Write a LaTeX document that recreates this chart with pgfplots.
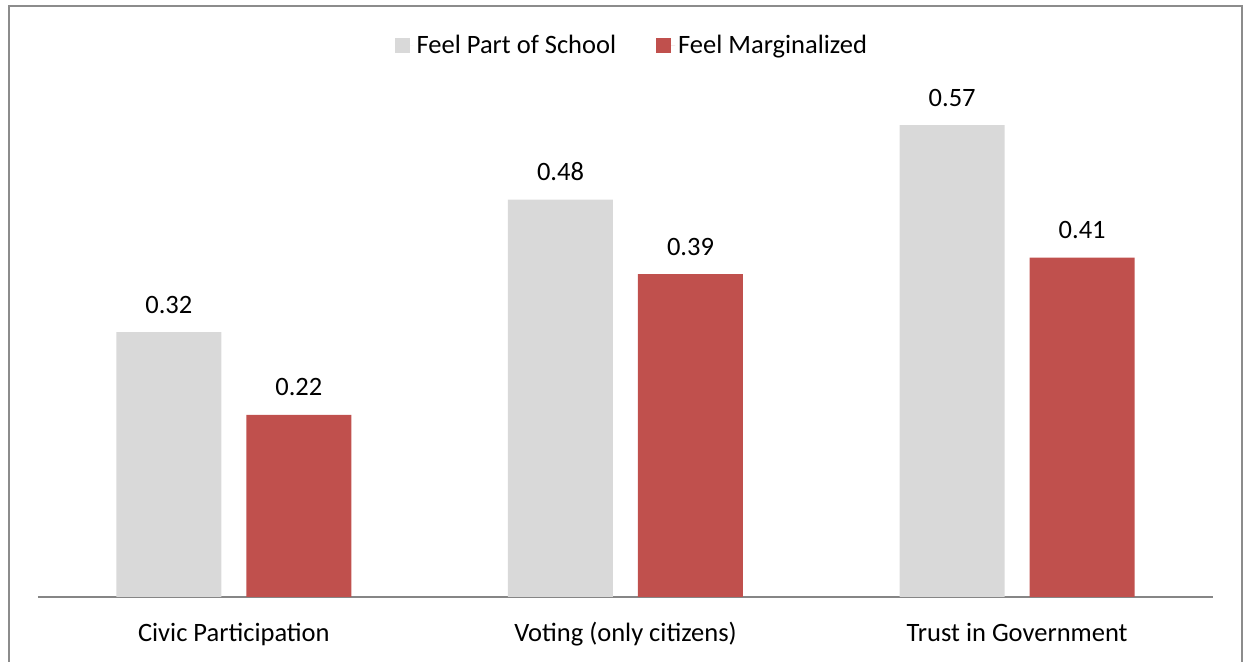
\documentclass[border=0pt]{standalone}
\usepackage{pgfplots}
\pgfplotsset{compat=1.18}
\usepackage{fontspec}
\setmainfont{Carlito}
\definecolor{barGray}{HTML}{D9D9D9}
\definecolor{barRed}{HTML}{C0504D}
\definecolor{frameGray}{HTML}{8C8C8C}
\definecolor{axisGray}{HTML}{868686}
\newcommand\cf{\fontsize{13.25pt}{15.9pt}\selectfont}
\begin{document}
\begin{tikzpicture}
\useasboundingbox (0,0) rectangle (621.5pt,331pt);
% chart frame
\draw[frameGray, line width=1pt] (4.25pt,-5pt) -- (4.25pt,328pt) -- (621pt,328pt) -- (621pt,-5pt);
\begin{axis}[
  at={(19pt,32.5pt)}, anchor=south west,
  scale only axis,
  x=195.83pt, y=414pt,
  xmin=-0.5, xmax=2.5, ymin=0, ymax=0.7,
  ybar, bar width=52.5pt,
  axis x line*=bottom, axis y line=none,
  x axis line style={axisGray, line width=0.65pt},
  xtick={0,1,2},
  xticklabels={Civic Participation, Voting (only citizens), Trust in Government},
  major tick length=0pt,
  xticklabel style={font=\cf, anchor=base, yshift=-22.5pt},
  ytick=\empty,
  nodes near coords,
  /pgf/number format/assume math mode=true,
  /pgf/number format/.cd, fixed, precision=2, fixed zerofill, /pgfplots/.cd,
  every node near coord/.append style={font=\cf, anchor=base, yshift=9.5pt, text=black},
  legend columns=2,
  legend style={at={(0.5058,0.9507)}, anchor=center, draw=none, fill=none,
    font=\cf, /tikz/every even column/.append style={column sep=18.5pt},
    nodes={inner sep=1.5pt}},
  clip=false,
]
\addplot[fill=barGray, draw=none, bar shift=-32.5pt,
  legend image code/.code={\fill[barGray] (0pt,-3.5pt) rectangle (7.5pt,4pt);
    \path (7.5pt,0pt) -- (9.5pt,0pt);}]
  coordinates {(0,0.32) (1,0.48) (2,0.57)};
\addplot[fill=barRed, draw=none, bar shift=32.5pt,
  legend image code/.code={\fill[barRed] (0pt,-3.5pt) rectangle (7.5pt,4pt);
    \path (7.5pt,0pt) -- (9.5pt,0pt);}]
  coordinates {(0,0.22) (1,0.39) (2,0.41)};
\legend{Feel Part of School, Feel Marginalized}
\end{axis}
\end{tikzpicture}
\end{document}
